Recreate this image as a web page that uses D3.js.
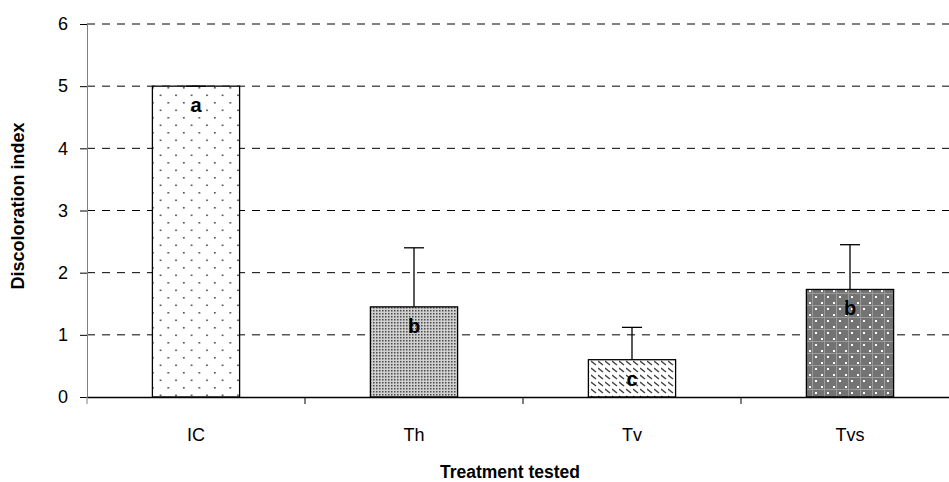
<!DOCTYPE html>
<html>
<head>
<meta charset="utf-8">
<script src="https://cdn.jsdelivr.net/npm/d3@7"></script>
<style>
  body { margin: 0; background: #fff; }
  text { font-family: "Liberation Sans", Arial, sans-serif; }
</style>
</head>
<body>
<div id="chart"></div>
<script>
// chart data
const treatments = ["IC", "Th", "Tv", "Tvs"];
const meanIndex = [5.0, 1.45, 0.6, 1.73];
const errorUp = [0.0, 0.95, 0.52, 0.72];
const groupLetters = ["a", "b", "c", "b"];
const yTicks = [0, 1, 2, 3, 4, 5, 6];

const W = 949, H = 482;
const margin = { top: 24, left: 87 };
const plotW = 872, plotH = 373;

const svg = d3.select("#chart").append("svg")
    .attr("width", W).attr("height", H);

const defs = svg.append("defs");

// IC: sparse dots on white
let p = defs.append("pattern").attr("id", "pat-ic")
    .attr("patternUnits", "userSpaceOnUse").attr("width", 15.5).attr("height", 15);
p.append("rect").attr("width", 15.5).attr("height", 15).attr("fill", "#fff");
p.append("rect").attr("x", 3).attr("y", 3).attr("width", 1.6).attr("height", 1.6).attr("fill", "#444");
p.append("rect").attr("x", 10.75).attr("y", 10.5).attr("width", 1.6).attr("height", 1.6).attr("fill", "#444");

// Th: fine stipple
p = defs.append("pattern").attr("id", "pat-th")
    .attr("patternUnits", "userSpaceOnUse").attr("width", 3).attr("height", 3);
p.append("rect").attr("width", 3).attr("height", 3).attr("fill", "#d0d0d0");
p.append("rect").attr("x", 1).attr("y", 1).attr("width", 1.5).attr("height", 1.5).attr("fill", "#4a4a4a");

// Tv: dashed diagonal hatch
p = defs.append("pattern").attr("id", "pat-tv")
    .attr("patternUnits", "userSpaceOnUse").attr("width", 7).attr("height", 7);
p.append("rect").attr("width", 7).attr("height", 7).attr("fill", "#fff");
p.append("line").attr("x1", 0).attr("y1", 1).attr("x2", 5).attr("y2", 5)
    .attr("stroke", "#444").attr("stroke-width", 1.5);

// Tvs: dark checker with white specks
p = defs.append("pattern").attr("id", "pat-tvs")
    .attr("patternUnits", "userSpaceOnUse").attr("width", 12).attr("height", 12);
p.append("rect").attr("width", 12).attr("height", 12).attr("fill", "#737373");
p.append("rect").attr("x", 5).attr("y", 0).attr("width", 1).attr("height", 12).attr("fill", "#9a9a9a");
p.append("rect").attr("x", 0).attr("y", 5).attr("width", 12).attr("height", 1).attr("fill", "#9a9a9a");
p.append("rect").attr("x", 2).attr("y", 2).attr("width", 2).attr("height", 2).attr("fill", "#fff");
p.append("rect").attr("x", 8).attr("y", 8).attr("width", 2).attr("height", 2).attr("fill", "#fff");
const fills = ["url(#pat-ic)", "url(#pat-th)", "url(#pat-tv)", "url(#pat-tvs)"];

const g = svg.append("g").attr("transform", `translate(${margin.left},${margin.top})`);

const x = d3.scaleBand().domain(treatments).range([0, plotW]).paddingInner(0).paddingOuter(0);
const y = d3.scaleLinear().domain([0, 6]).range([plotH, 0]);

// gridlines
g.append("g").selectAll("line").data(yTicks.filter(d => d > 0)).join("line")
    .attr("x1", 0).attr("x2", plotW)
    .attr("y1", d => y(d)).attr("y2", d => y(d))
    .attr("stroke", "#000").attr("stroke-dasharray", "8,7").attr("stroke-width", 1);

// y axis
const yAxis = g.append("g")
    .call(d3.axisLeft(y).tickValues(yTicks).tickSize(7).tickPadding(12).tickFormat(d3.format("d")));
yAxis.select(".domain").attr("stroke", "#808080");
yAxis.selectAll(".tick line").attr("stroke", "#000");
yAxis.selectAll("text").attr("font-size", 18).attr("fill", "#000")
    .style("font-family", "'Liberation Sans', Arial, sans-serif");

// bars
const bw = x.bandwidth() * 0.4;
g.append("g").selectAll("rect").data(treatments).join("rect")
    .attr("x", d => x(d) + (x.bandwidth() - bw) / 2)
    .attr("width", bw)
    .attr("y", (d, i) => y(meanIndex[i]))
    .attr("height", (d, i) => plotH - y(meanIndex[i]))
    .attr("fill", (d, i) => fills[i])
    .attr("stroke", "#000").attr("stroke-width", 1.3);

// error bars (upper only)
const eb = g.append("g").selectAll("g").data(treatments).join("g");
eb.append("line")
    .attr("x1", d => x(d) + x.bandwidth() / 2).attr("x2", d => x(d) + x.bandwidth() / 2)
    .attr("y1", (d, i) => y(meanIndex[i])).attr("y2", (d, i) => y(meanIndex[i] + errorUp[i]))
    .attr("stroke", "#000").attr("stroke-width", 1.3);
eb.append("line")
    .attr("x1", d => x(d) + x.bandwidth() / 2 - 10).attr("x2", d => x(d) + x.bandwidth() / 2 + 10)
    .attr("y1", (d, i) => y(meanIndex[i] + errorUp[i])).attr("y2", (d, i) => y(meanIndex[i] + errorUp[i]))
    .attr("stroke", "#000").attr("stroke-width", 1.3);

// significance letters
g.append("g").selectAll("text").data(treatments).join("text")
    .attr("x", d => x(d) + x.bandwidth() / 2)
    .attr("y", (d, i) => y(meanIndex[i]) + 26)
    .attr("text-anchor", "middle").attr("font-size", 20).attr("font-weight", "bold")
    .text((d, i) => groupLetters[i]);

// x axis
const xAxis = g.append("g").attr("transform", `translate(0,${plotH})`)
    .call(d3.axisBottom(x).tickSize(0).tickPadding(31));
xAxis.select(".domain").attr("stroke", "#000").attr("stroke-width", 1.3);
xAxis.selectAll("text").attr("font-size", 18).attr("fill", "#000")
    .style("font-family", "'Liberation Sans', Arial, sans-serif");
// boundary ticks between categories
g.append("g").selectAll("line").data(d3.range(treatments.length)).join("line")
    .attr("x1", i => i * x.bandwidth()).attr("x2", i => i * x.bandwidth())
    .attr("y1", plotH).attr("y2", plotH + 7)
    .attr("stroke", i => i === 0 ? "#808080" : "#000");

// titles
svg.append("text").attr("x", 510).attr("y", 478)
    .attr("text-anchor", "middle").attr("font-size", 17.5).attr("font-weight", "bold")
    .text("Treatment tested");
svg.append("text")
    .attr("transform", "translate(24,206) rotate(-90)")
    .attr("text-anchor", "middle").attr("font-size", 18).attr("font-weight", "bold")
    .text("Discoloration index");
</script>
</body>
</html>
